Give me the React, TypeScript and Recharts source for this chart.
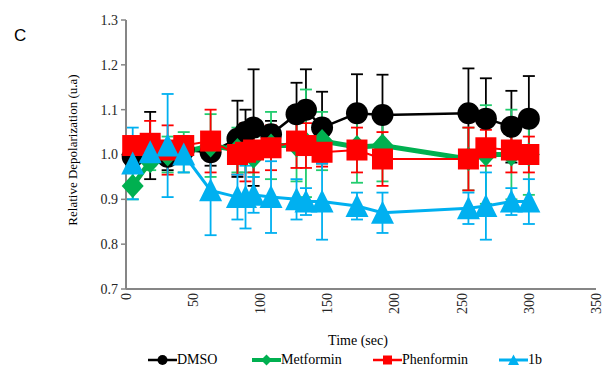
import React from "react";
import { LineChart, Line, XAxis, YAxis, ErrorBar, Label } from "recharts";

const times = [5, 18, 31, 43, 63, 83, 89, 95, 108, 127, 134, 146, 172, 191, 255, 268, 287, 300];

const dmso = [0.995, 1.02, 0.995, 1.01, 1.005, 1.035, 1.05, 1.06, 1.045, 1.09, 1.1, 1.06, 1.092, 1.088, 1.092, 1.08, 1.062, 1.08];
const dmsoErr = [0.02, 0.075, 0.03, 0.03, 0.03, 0.085, 0.05, 0.13, 0.03, 0.07, 0.09, 0.08, 0.087, 0.09, 0.1, 0.09, 0.08, 0.095];

const metformin = [0.93, 0.985, 1.0, 1.005, 1.02, 1.01, 1.0, 0.995, 1.02, 1.02, 1.025, 1.03, 1.017, 1.02, 0.99, 1.0, 1.0, 1.0];
const metforminErr = [0.03, 0.02, 0.04, 0.045, 0.07, 0.05, 0.04, 0.045, 0.075, 0.08, 0.12, 0.065, 0.08, 0.08, 0.07, 0.11, 0.1, 0.09];

const phenformin = [1.02, 1.025, 1.01, 1.02, 1.03, 1.0, 1.005, 1.01, 1.015, 1.03, 1.02, 1.005, 1.01, 0.99, 0.99, 1.015, 1.01, 1.0];
const phenforminErr = [0.02, 0.05, 0.055, 0.02, 0.07, 0.045, 0.065, 0.05, 0.05, 0.06, 0.05, 0.032, 0.05, 0.06, 0.07, 0.04, 0.05, 0.04];

const b1 = [0.98, 1.005, 1.02, 1.0, 0.92, 0.905, 0.905, 0.91, 0.905, 0.9, 0.895, 0.895, 0.885, 0.87, 0.88, 0.885, 0.895, 0.895];
const b1Err = [0.08, 0.03, 0.115, 0.04, 0.1, 0.05, 0.07, 0.04, 0.08, 0.045, 0.03, 0.085, 0.03, 0.045, 0.035, 0.075, 0.03, 0.05];

const xTicks = [0, 50, 100, 150, 200, 250, 300, 350];
const yTicks = [0.7, 0.8, 0.9, 1.0, 1.1, 1.2, 1.3];

const data = times.map((t, i) => ({
  t,
  dmso: dmso[i],
  dmsoErr: dmsoErr[i],
  metformin: metformin[i],
  metforminErr: metforminErr[i],
  phenformin: phenformin[i],
  phenforminErr: phenforminErr[i],
  b1: b1[i],
  b1Err: b1Err[i],
}));

const BLACK = "#000000";
const GREEN = "#00B050";
const GREEN_ERR = "#22CC6E";
const RED = "#FF0000";
const BLUE = "#00B0F0";
const AXIS = "#868686";
const SERIF = "Times New Roman, Liberation Serif, DejaVu Serif, serif";

// eslint-disable-next-line @typescript-eslint/no-explicit-any
const circleDot = (p: any) => <circle key={p.index} cx={p.cx} cy={p.cy} r={11} fill={BLACK} />;
// eslint-disable-next-line @typescript-eslint/no-explicit-any
const diamondDot = (p: any) => (
  <path key={p.index} d={`M${p.cx},${p.cy - 12}L${p.cx + 11},${p.cy}L${p.cx},${p.cy + 12}L${p.cx - 11},${p.cy}Z`} fill={GREEN} />
);
// eslint-disable-next-line @typescript-eslint/no-explicit-any
const squareDot = (p: any) => <rect key={p.index} x={p.cx - 10.5} y={p.cy - 10.5} width={21} height={21} fill={RED} />;
// eslint-disable-next-line @typescript-eslint/no-explicit-any
const triangleDot = (p: any) => (
  <path key={p.index} d={`M${p.cx},${p.cy - 12}L${p.cx + 11.5},${p.cy + 11}L${p.cx - 11.5},${p.cy + 11}Z`} fill={BLUE} />
);

// eslint-disable-next-line @typescript-eslint/no-explicit-any
function XTick({ x, y, payload }: any) {
  return (
    <g transform={`translate(${x},${y})`}>
      <text transform="rotate(-90)" textAnchor="end" dy="0.35em" fontSize={14} style={{ fontFamily: SERIF }} fill="#262626">
        {payload.value}
      </text>
    </g>
  );
}

const legendItems = [
  { name: "DMSO", color: BLACK, width: 2.5, shape: "circle" },
  { name: "Metformin", color: GREEN, width: 4, shape: "diamond" },
  { name: "Phenformin", color: RED, width: 2.5, shape: "square" },
  { name: "1b", color: BLUE, width: 3, shape: "triangle" },
];
const legendLeft = [148, 252, 373, 499];

function LegendIcon({ color, width, shape }: { color: string; width: number; shape: string }) {
  return (
    <svg width={29} height={14} style={{ display: "block" }}>
      <line x1={0} y1={7} x2={29} y2={7} stroke={color} strokeWidth={width} />
      {shape === "circle" && <circle cx={14.5} cy={7} r={5} fill={color} />}
      {shape === "diamond" && <path d="M14.5,1.5L20,7L14.5,12.5L9,7Z" fill={color} />}
      {shape === "square" && <rect x={10} y={2.5} width={9} height={9} fill={color} />}
      {shape === "triangle" && <path d="M14.5,1.5L20,12L9,12Z" fill={color} />}
    </svg>
  );
}

export default function App() {
  return (
    <div style={{ position: "absolute", left: 0, top: 0, width: 603, height: 380, background: "#fff" }}>
      <div
        style={{
          position: "absolute",
          left: 14,
          top: 26,
          fontFamily: "Arial, Liberation Sans, sans-serif",
          fontSize: 17,
          color: "#000",
          lineHeight: "20px",
        }}>
        C
      </div>
      <LineChart width={603} height={380} data={data} margin={{ top: 20, right: 7, bottom: 0, left: 0 }}>
        <XAxis
          type="number"
          dataKey="t"
          domain={[0, 350]}
          ticks={xTicks}
          interval={0}
          tickLine={false}
          tickSize={0}
          tickMargin={4}
          height={91}
          axisLine={{ stroke: AXIS, strokeWidth: 2 }}
          tick={<XTick />}>
          <Label
            content={() => (
              <text x={358} y={345} textAnchor="middle" fontSize={14} style={{ fontFamily: SERIF }} fill="#000">
                Time (sec)
              </text>
            )}
          />
        </XAxis>
        <YAxis
          type="number"
          domain={[0.7, 1.3]}
          ticks={yTicks}
          interval={0}
          width={126}
          tickSize={5}
          tickMargin={3}
          tickFormatter={(v: number) => v.toFixed(1)}
          axisLine={{ stroke: AXIS, strokeWidth: 2 }}
          tickLine={{ stroke: AXIS, strokeWidth: 1.5 }}
          tick={{ fontSize: 14, style: { fontFamily: SERIF }, fill: "#262626" }}>
          <Label
            content={() => (
              <text x={77} y={150} transform="rotate(-90 77 150)" textAnchor="middle" fontSize={13} style={{ fontFamily: SERIF }} fill="#000">
                Relative Depolarization (u.a)
              </text>
            )}
          />
        </YAxis>
        <Line dataKey="dmso" stroke={BLACK} strokeWidth={2.5} dot={circleDot} activeDot={false} isAnimationActive={false}>
          <ErrorBar dataKey="dmsoErr" width={6} stroke={BLACK} strokeWidth={1.8} direction="y" />
        </Line>
        <Line dataKey="metformin" stroke={GREEN} strokeWidth={5} dot={diamondDot} activeDot={false} isAnimationActive={false}>
          <ErrorBar dataKey="metforminErr" width={6} stroke={GREEN_ERR} strokeWidth={1.8} direction="y" />
        </Line>
        <Line dataKey="phenformin" stroke={RED} strokeWidth={2} dot={squareDot} activeDot={false} isAnimationActive={false}>
          <ErrorBar dataKey="phenforminErr" width={6} stroke={RED} strokeWidth={1.8} direction="y" />
        </Line>
        <Line dataKey="b1" stroke={BLUE} strokeWidth={3} dot={triangleDot} activeDot={false} isAnimationActive={false}>
          <ErrorBar dataKey="b1Err" width={6} stroke={BLUE} strokeWidth={1.8} direction="y" />
        </Line>
      </LineChart>
      {legendItems.map((item, i) => (
        <div
          key={item.name}
          style={{
            position: "absolute",
            left: legendLeft[i],
            top: 351,
            display: "flex",
            alignItems: "center",
            fontFamily: SERIF,
            fontSize: 14,
            lineHeight: "18px",
            color: "#000",
          }}>
          <LegendIcon color={item.color} width={item.width} shape={item.shape} />
          <span>{item.name}</span>
        </div>
      ))}
    </div>
  );
}
